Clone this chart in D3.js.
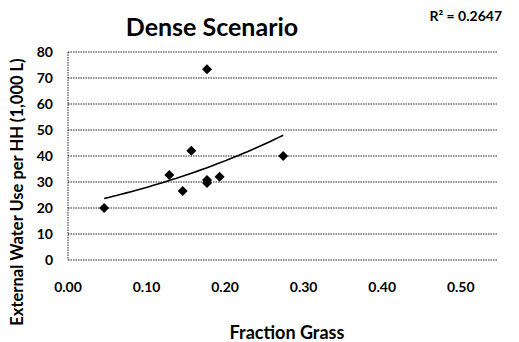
<!DOCTYPE html>
<html>
<head>
  <style>
    body { margin: 0; background: #fff; }
    svg text { font-family: Lato, "Open Sans", sans-serif; font-weight: bold; fill: #000; }
  </style>
</head>
<body>
  <script src="https://d3js.org/d3.v7.min.js"></script>
  <script>
    // household data points
    const fractionGrass = [0.046, 0.129, 0.146, 0.157, 0.177, 0.177, 0.193, 0.274, 0.177];
    const waterUse = [20.0, 32.7, 26.5, 42.0, 30.8, 29.6, 32.0, 40.0, 73.4];
    const yTicks = [0, 10, 20, 30, 40, 50, 60, 70, 80];
    const xTicks = [0, 0.1, 0.2, 0.3, 0.4, 0.5];
    const rSquaredLabel = "R\u00B2 = 0.2647";

    const width = 519, height = 342;
    const svg = d3.select('body').append('svg')
      .attr('width', width)
      .attr('height', height);

    const x = d3.scaleLinear().domain([0, 0.55]).range([68, 500]);
    const y = d3.scaleLinear().domain([0, 80]).range([260, 52]);

    // dotted gridlines
    svg.selectAll('.grid')
      .data(yTicks)
      .enter().append('line')
      .attr('x1', x(0)).attr('x2', 498)
      .attr('y1', function(d) { return y(d); })
      .attr('y2', function(d) { return y(d); })
      .attr('stroke', '#222')
      .attr('stroke-width', 1)
      .attr('stroke-dasharray', '1.5,1');

    // y axis line
    svg.append('line')
      .attr('x1', x(0)).attr('x2', x(0))
      .attr('y1', y(80)).attr('y2', y(0))
      .attr('stroke', '#222')
      .attr('stroke-dasharray', '1.5,1');

    // tick labels
    svg.selectAll('.ylab')
      .data(yTicks)
      .enter().append('text')
      .attr('x', 53)
      .attr('y', function(d) { return y(d); })
      .attr('dy', '0.35em')
      .attr('text-anchor', 'end')
      .style('font-size', '14px')
      .text(function(d) { return d; });

    svg.selectAll('.xlab')
      .data(xTicks)
      .enter().append('text')
      .attr('x', function(d) { return x(d); })
      .attr('y', 292)
      .attr('text-anchor', 'middle')
      .style('font-size', '14px')
      .text(function(d) { return d3.format('.2f')(d); });

    // exponential trendline fitted on ln(y)
    const pts = fractionGrass.map(function(v, i) { return [v, waterUse[i]]; });
    const mx = d3.mean(pts, function(p) { return p[0]; });
    const my = d3.mean(pts, function(p) { return Math.log(p[1]); });
    let sxy = 0, sxx = 0;
    pts.forEach(function(p) {
      sxy += (p[0] - mx) * (Math.log(p[1]) - my);
      sxx += (p[0] - mx) * (p[0] - mx);
    });
    const b = sxy / sxx;
    const a = Math.exp(my - b * mx);
    const xs = d3.range(41).map(function(i) {
      const lo = d3.min(fractionGrass), hi = d3.max(fractionGrass);
      return lo + (hi - lo) * i / 40;
    });
    svg.append('path')
      .datum(xs)
      .attr('fill', 'none')
      .attr('stroke', '#000')
      .attr('stroke-width', 1.6)
      .attr('d', d3.line()
        .x(function(d) { return x(d); })
        .y(function(d) { return y(a * Math.exp(b * d)); }));

    // diamond markers
    svg.selectAll('.pt')
      .data(pts)
      .enter().append('path')
      .attr('d', d3.symbol().type(d3.symbolDiamond2).size(64))
      .attr('transform', function(p) { return 'translate(' + x(p[0]) + ',' + y(p[1]) + ')'; })
      .attr('fill', '#000');

    // titles
    svg.append('text')
      .attr('x', 212).attr('y', 36)
      .attr('text-anchor', 'middle')
      .style('font-size', '25px')
      .text('Dense Scenario');

    svg.append('text')
      .attr('x', 502).attr('y', 21)
      .attr('text-anchor', 'end')
      .style('font-size', '14px')
      .text(rSquaredLabel);

    svg.append('text')
      .attr('x', 287).attr('y', 339)
      .attr('text-anchor', 'middle')
      .style('font-size', '18px')
      .text('Fraction Grass');

    svg.append('text')
      .attr('transform', 'translate(23,192) rotate(-90)')
      .attr('text-anchor', 'middle')
      .style('font-size', '16.5px')
      .text('External Water Use per HH (1,000 L)');
  </script>
</body>
</html>
